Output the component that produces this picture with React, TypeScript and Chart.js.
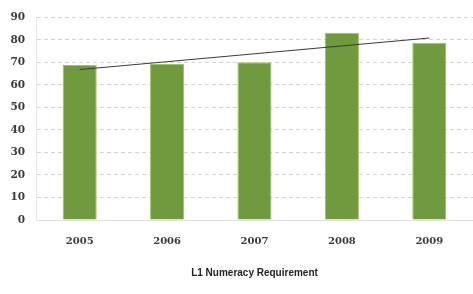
import React, { useEffect, useRef } from "react";
import { Chart, registerables } from "chart.js";

Chart.register(...registerables);

const categories = ["2005", "2006", "2007", "2008", "2009"];
const requirementValues = [68.8, 69.4, 70.0, 83.1, 78.7];
// linear trendline endpoints
const trendValues = [66.8, null, null, null, 80.8];
const yTicks = [0, 10, 20, 30, 40, 50, 60, 70, 80, 90];
const axisTitle = "L1 Numeracy Requirement";

export default function App() {
  const ref = useRef<HTMLCanvasElement>(null);
  useEffect(() => {
    document.body.style.margin = "0";
    const chart = new Chart(ref.current!, {
      type: "bar",
      data: {
        labels: categories,
        datasets: [
          {
            type: "line",
            data: trendValues,
            borderColor: "#3a3a3a",
            borderWidth: 1,
            pointRadius: 0,
            spanGaps: true,
            order: 0,
          } as any,
          {
            type: "bar",
            data: requirementValues,
            backgroundColor: "#6f9a3e",
            borderColor: "#9fc35e",
            borderWidth: 1,
            categoryPercentage: 1,
            barPercentage: 0.39,
            order: 1,
          },
        ],
      },
      options: {
        animation: false,
        responsive: false,
        maintainAspectRatio: false,
        layout: { padding: { top: 6, right: 0, left: 0, bottom: 0 } },
        plugins: { legend: { display: false }, tooltip: { enabled: false } },
        scales: {
          x: {
            grid: { display: false, drawTicks: false },
            border: { display: true, color: "#e0e0e0" },
            ticks: {
              padding: 15,
              color: "#3a3a3a",
              font: { family: "DejaVu Serif", size: 10, weight: "bold" },
            },
            title: {
              display: true,
              text: axisTitle,
              color: "#222",
              font: { family: "Liberation Sans", size: 10, weight: "bold" },
              padding: { top: 0, bottom: 15 },
            },
            afterFit: (s: any) => {
              s.height = 74;
            },
          },
          y: {
            min: 0,
            max: 90,
            afterBuildTicks: (s: any) => {
              s.ticks = yTicks.map((v) => ({ value: v }));
            },
            grid: {
              color: "#d4d4d4",
              drawTicks: false,
            },
            border: { display: true, color: "#e6e6e6", dash: [4, 3] },
            ticks: {
              padding: 11,
              color: "#3a3a3a",
              font: { family: "DejaVu Serif", size: 10.5, weight: "bold" },
            },
            afterFit: (s: any) => {
              s.width = 36;
            },
          },
        },
      },
    });
    return () => chart.destroy();
  }, []);
  return (
    <div style={{ width: 473, height: 294, background: "#fff" }}>
      <canvas ref={ref} width={473} height={294} />
    </div>
  );
}
